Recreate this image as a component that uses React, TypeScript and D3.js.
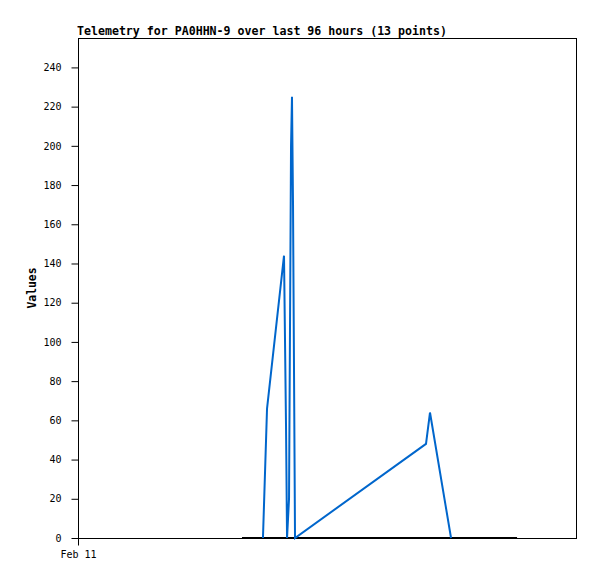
import React, { useEffect, useRef } from 'react';
import * as d3 from 'd3';

// telemetry samples (blue series)
const sampleTimes = [
  '2024-02-12T11:35', '2024-02-12T12:22', '2024-02-12T15:38', '2024-02-12T16:01',
  '2024-02-12T16:13', '2024-02-12T16:36', '2024-02-12T16:59', '2024-02-12T17:10',
  '2024-02-12T17:22', '2024-02-12T17:45', '2024-02-13T18:57', '2024-02-13T19:43',
  '2024-02-13T23:46',
];
const sampleValues = [0, 66, 144, 58, 0, 20, 200, 225, 170, 0, 48, 64, 0];

// baseline series (black)
const baseTimes = ['2024-02-12T07:33', '2024-02-14T12:28'];
const baseValues = [0, 0];

const yTicks = [0, 20, 40, 60, 80, 100, 120, 140, 160, 180, 200, 220, 240];
const xStart = '2024-02-11T00:00';
const xEnd = '2024-02-15T00:00';
const xTickLabels = ['Feb 11'];

const title = 'Telemetry for PA0HHN-9 over last 96 hours (13 points)';

export default function App() {
  const ref = useRef<SVGSVGElement>(null);

  useEffect(() => {
    const width = 597;
    const height = 579;
    const margin = { top: 38, right: 20, bottom: 41, left: 78 };
    const mono = '"DejaVu Sans Mono", monospace';

    const svg = d3.select(ref.current);
    svg.selectAll('*').remove();

    const x = d3
      .scaleTime()
      .domain([new Date(xStart), new Date(xEnd)])
      .range([margin.left, width - margin.right]);

    const y = d3
      .scaleLinear()
      .domain([0, 255])
      .range([height - margin.bottom, margin.top]);

    svg.append('rect').attr('width', width).attr('height', height).attr('fill', '#fff');

    // frame
    svg
      .append('rect')
      .attr('x', margin.left + 0.5)
      .attr('y', margin.top + 0.5)
      .attr('width', width - margin.left - margin.right - 1)
      .attr('height', height - margin.top - margin.bottom)
      .attr('fill', 'none')
      .attr('stroke', '#000')
      .attr('stroke-width', 1);

    // y axis
    const yAxis = svg
      .append('g')
      .attr('transform', `translate(${margin.left + 0.5},0)`)
      .call(d3.axisLeft(y).tickValues(yTicks).tickSize(7).tickSizeOuter(0).tickPadding(10));
    yAxis.select('.domain').remove();
    yAxis.selectAll('text').attr('font-family', mono).attr('font-size', 10).attr('fill', '#000');

    // x axis
    const xAxis = svg
      .append('g')
      .attr('transform', `translate(0,${height - margin.bottom + 0.5})`)
      .call(
        d3
          .axisBottom(x)
          .tickValues([new Date(xStart)])
          .tickFormat((_, i) => xTickLabels[i])
          .tickSize(7)
          .tickPadding(5)
      );
    xAxis.select('.domain').remove();
    xAxis.selectAll('text').attr('font-family', mono).attr('font-size', 10).attr('fill', '#000');

    const line = d3
      .line<[string, number]>()
      .x((d) => x(new Date(d[0])))
      .y((d) => y(d[1]));

    svg
      .append('path')
      .datum(baseTimes.map((t, i) => [t, baseValues[i]] as [string, number]))
      .attr('fill', 'none')
      .attr('stroke', '#000')
      .attr('stroke-width', 2)
      .attr('d', line);

    svg
      .append('path')
      .datum(sampleTimes.map((t, i) => [t, sampleValues[i]] as [string, number]))
      .attr('fill', 'none')
      .attr('stroke', '#0066cc')
      .attr('stroke-width', 2)
      .attr('stroke-linejoin', 'miter')
      .attr('d', line);

    // title
    svg
      .append('text')
      .attr('x', 77)
      .attr('y', 35)
      .attr('font-family', mono)
      .attr('font-size', 11.6)
      .attr('font-weight', 'bold')
      .text(title);

    // y label
    svg
      .append('text')
      .attr('transform', `translate(36,${(margin.top + height - margin.bottom) / 2}) rotate(-90)`)
      .attr('text-anchor', 'middle')
      .attr('font-family', mono)
      .attr('font-size', 11.4)
      .attr('font-weight', 'bold')
      .text('Values');
  }, []);

  return (
    <svg
      ref={ref}
      width={597}
      height={579}
      style={{ position: 'absolute', left: 0, top: 0 }}
    />
  );
}
